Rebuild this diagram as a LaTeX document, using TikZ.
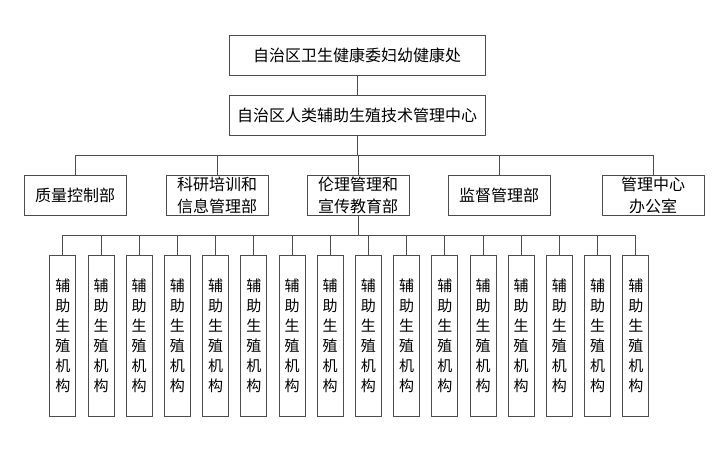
\documentclass[tikz,border=0pt]{standalone}
\usepackage{fontspec}
\setmainfont{Noto Sans CJK SC}
\usepackage{xcolor}
\usepackage{tikz}

\begin{document}
\begin{tikzpicture}[x=1pt, y=-1pt,
    box/.style={draw=black!70, line width=0.9pt, minimum width=256pt, minimum height=40pt, inner sep=0pt, font=\fontsize{16}{19}\selectfont},
    dept/.style={box, minimum width=102pt, align=center, font=\fontsize{16}{22}\selectfont},
    org/.style={draw=black!70, line width=0.9pt, minimum width=26pt, minimum height=161pt, inner sep=0pt, align=center, font=\fontsize{15}{20}\selectfont},
    link/.style={draw=black!70, line width=0.9pt}]
  \useasboundingbox (0,0) rectangle (726,450);
  \node[box] (wjw) at (357,55) {自治区卫生健康委妇幼健康处};
  \node[box] (zx) at (357,115) {自治区人类辅助生殖技术管理中心};
  \node[dept] (zl) at (75,195) {质量控制部};
  \node[dept] (ky) at (217,195) {科研培训和\\信息管理部};
  \node[dept] (ll) at (358,195) {伦理管理和\\宣传教育部};
  \node[dept] (jd) at (499,195) {监督管理部};
  \node[dept] (bgs) at (653,195) {管理中心\\办公室};
  \foreach \i in {1,...,16}
    \node[org] (jg\i) at ({62.8+38.2*(\i-1)},335.5) {辅\\助\\生\\殖\\机\\构};
  \draw[link] (wjw) -- (zx);
  \coordinate (bus1) at (357,155);
  \draw[link] (zx) -- (bus1);
  \foreach \d in {zl,ky,ll,jd,bgs}
    \draw[link] (\d.north) |- (bus1);
  \coordinate (bus2) at (358,235);
  \draw[link] (ll) -- (bus2);
  \foreach \i in {1,...,16}
    \draw[link] (jg\i.north) |- (bus2);
\end{tikzpicture}
\end{document}
